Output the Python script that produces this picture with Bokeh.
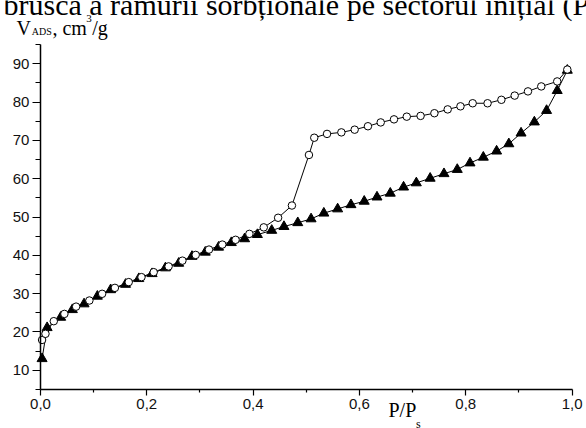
from bokeh.plotting import figure
from bokeh.models import FixedTicker, Label, Range1d, LinearAxis
from bokeh.embed import file_html
from bokeh.resources import INLINE

# Adsorption branch (filled triangles)
ads_x = [0.003, 0.0125, 0.038, 0.06, 0.082, 0.107, 0.132, 0.16, 0.185, 0.21, 0.235, 0.26, 0.285,
         0.31, 0.335, 0.359, 0.384, 0.408, 0.435, 0.458, 0.484, 0.509, 0.533, 0.559, 0.584, 0.609,
         0.633, 0.658, 0.683, 0.707, 0.733, 0.759, 0.784, 0.808, 0.833, 0.858, 0.881, 0.904, 0.929,
         0.952, 0.972, 0.991]
ads_y = [13.0, 21.1, 23.8, 25.8, 27.3, 29.3, 31.0, 32.4, 33.9, 35.2, 36.7, 37.9, 39.7,
         40.8, 42.1, 43.3, 44.3, 45.4, 46.5, 47.5, 48.5, 49.5, 51.0, 52.1, 53.2, 54.1,
         55.2, 56.2, 57.8, 58.9, 60.1, 61.3, 62.4, 64.1, 65.6, 67.2, 69.1, 71.9, 74.8,
         77.8, 83.0, 88.3]

# Desorption branch (open circles)
des_x = [0.003, 0.0094, 0.025, 0.045, 0.067, 0.092, 0.116, 0.14, 0.166, 0.19, 0.213, 0.241, 0.267,
         0.292, 0.317, 0.342, 0.367, 0.393, 0.42, 0.447, 0.473, 0.505, 0.515, 0.539, 0.566, 0.591,
         0.616, 0.64, 0.665, 0.689, 0.715, 0.741, 0.766, 0.79, 0.813, 0.841, 0.867, 0.892, 0.917,
         0.942, 0.972, 0.991]
des_y = [17.9, 19.5, 22.8, 24.7, 26.6, 28.2, 29.95, 31.5, 33.0, 34.3, 35.6, 37.1, 38.6,
         40.1, 41.5, 42.8, 44.05, 45.6, 47.3, 49.8, 53.0, 66.2, 70.7, 71.7, 72.1, 72.8,
         73.7, 74.7, 75.5, 76.2, 76.4, 77.1, 78.1, 78.9, 79.7, 79.7, 80.6, 81.7, 82.8,
         84.1, 85.4, 88.5]

x_ticks = [0.0, 0.2, 0.4, 0.6, 0.8, 1.0]
x_tick_labels = ["0,0", "0,2", "0,4", "0,6", "0,8", "1,0"]
x_minor = [0.1, 0.3, 0.5, 0.7, 0.9]
y_ticks = [10, 20, 30, 40, 50, 60, 70, 80, 90]
y_minor = [5, 15, 25, 35, 45, 55, 65, 75, 85, 95]

top_text = "bruscă a ramurii sorbționale pe sectorul inițial (P/P"

p = figure(width=586, height=428, output_backend="svg", toolbar_location=None,
           x_range=Range1d(-0.0752, 1.0271), y_range=Range1d(-5.22, 106.53),
           x_axis_location=None, y_axis_location=None, min_border=0)
p.outline_line_color = None
p.grid.visible = False
p.background_fill_color = "white"
p.border_fill_color = "white"

xaxis = LinearAxis(fixed_location=5, bounds=(0, 1),
                   ticker=FixedTicker(ticks=x_ticks, minor_ticks=x_minor),
                   major_label_overrides={t: l for t, l in zip(x_ticks, x_tick_labels)},
                   major_tick_out=6, minor_tick_out=3, major_label_standoff=4)
yaxis = LinearAxis(fixed_location=0, bounds=(5, 95),
                   ticker=FixedTicker(ticks=y_ticks, minor_ticks=y_minor),
                   major_tick_out=8, minor_tick_out=5, major_label_standoff=3)
for ax in (xaxis, yaxis):
    ax.axis_line_width = 1.5
    ax.axis_line_color = "black"
    ax.major_tick_line_color = "black"
    ax.minor_tick_line_color = "black"
    ax.major_tick_line_width = 1.2
    ax.minor_tick_line_width = 1.2
    ax.major_tick_in = 0
    ax.minor_tick_in = 0
    ax.major_label_text_font = "Liberation Sans"
    ax.major_label_text_font_size = "15px"
    ax.major_label_text_color = "#111111"
p.add_layout(xaxis, "below")
p.add_layout(yaxis, "left")

p.line(ads_x, ads_y, line_color="black", line_width=1)
p.line(des_x, des_y, line_color="black", line_width=1)
p.scatter(ads_x, ads_y, marker="triangle", size=10, fill_color="black", line_color="black")
p.scatter(des_x, des_y, marker="circle", size=7.5, fill_color="white", line_color="black", line_width=1)

serif = "Liberation Serif"
# clipped document text at the top
p.add_layout(Label(x=-0.0696, y=105.5, text=top_text, text_font=serif, text_font_size="30px",
                   text_baseline="alphabetic", text_color="black"))
# y axis title: V_ADS, cm^3/g
p.add_layout(Label(x=-0.0451, y=99.4, text="V", text_font=serif, text_font_size="20px",
                   text_baseline="alphabetic", text_color="black"))
p.add_layout(Label(x=-0.0165, y=98.5, text="ADS", text_font=serif, text_font_size="10px",
                   text_baseline="alphabetic", text_color="black"))
p.add_layout(Label(x=0.0225, y=99.4, text=", cm", text_font=serif, text_font_size="20px",
                   text_baseline="alphabetic", text_color="black"))
p.add_layout(Label(x=0.086, y=101.8, text="3", text_font=serif, text_font_size="11px",
                   text_baseline="alphabetic", text_color="black"))
p.add_layout(Label(x=0.0975, y=99.4, text="/g", text_font=serif, text_font_size="20px",
                   text_baseline="alphabetic", text_color="black"))
# x axis title: P/P_s
p.add_layout(Label(x=0.6546, y=-0.5, text="P/P", text_font=serif, text_font_size="20px",
                   text_baseline="alphabetic", text_color="black"))
p.add_layout(Label(x=0.7065, y=-4.1, text="s", text_font=serif, text_font_size="12px",
                   text_baseline="alphabetic", text_color="black"))

open("out.html", "w").write(file_html(p, INLINE))
